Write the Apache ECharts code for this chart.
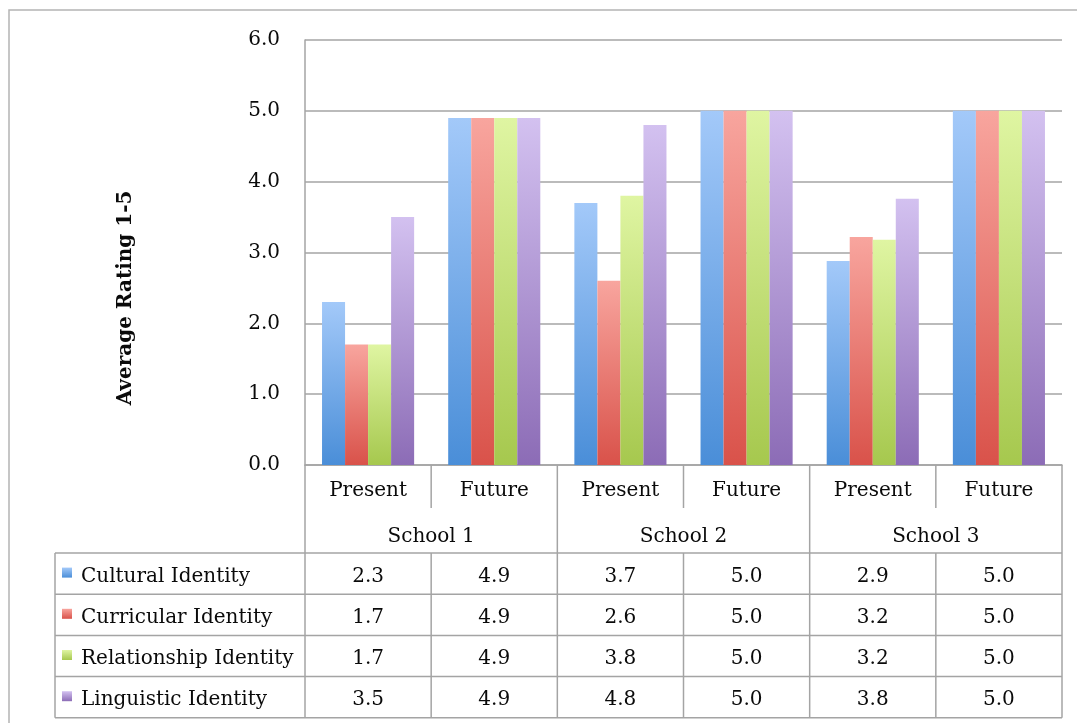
<!DOCTYPE html>
<html>
<head>
<meta charset="utf-8">
<script src="https://cdn.jsdelivr.net/npm/echarts@6/dist/echarts.min.js"></script>
<style>
  html, body { margin: 0; padding: 0; background: #fff; }
  #chart { width: 1077px; height: 723px; }
</style>
</head>
<body>
<div id="chart"></div>
<script>
// Average rating (1-5) per identity dimension, present vs. future, for three schools
const periods = ['Present', 'Future', 'Present', 'Future', 'Present', 'Future'];
const schools = ['School 1', 'School 2', 'School 3'];
const seriesNames = ['Cultural Identity', 'Curricular Identity', 'Relationship Identity', 'Linguistic Identity'];
const cultural = [2.3, 4.9, 3.7, 5.0, 2.88, 5.0];
const curricular = [1.7, 4.9, 2.6, 5.0, 3.22, 5.0];
const relationship = [1.7, 4.9, 3.8, 5.0, 3.18, 5.0];
const linguistic = [3.5, 4.9, 4.8, 5.0, 3.76, 5.0];
const yTicks = [0, 1, 2, 3, 4, 5, 6];
const yTitle = 'Average Rating 1-5';

const seriesValues = [cultural, curricular, relationship, linguistic];
// gradient colours, light at the top of each bar and deeper at the base
const barColors = [
  ['#a3c9f9', '#4a8ed8'],
  ['#f8a59e', '#d9524a'],
  ['#dff5a2', '#a6c84e'],
  ['#d3c1f0', '#8c6cb6']
];

const FONT = 'DejaVu Serif';
const FS = 20;
const TEXT = '#0a0a0a';
const LINE = '#a4a4a4';
const GRID = { left: 305, right: 15, top: 40, bottom: 258 };

const chart = echarts.init(document.getElementById('chart'), null, { renderer: 'canvas' });

function grad(c) {
  return new echarts.graphic.LinearGradient(0, 0, 0, 1, [
    { offset: 0, color: c[0] },
    { offset: 1, color: c[1] }
  ]);
}

chart.setOption({
  animation: false,
  backgroundColor: '#fff',
  grid: GRID,
  xAxis: [
    {
      type: 'category',
      data: periods,
      position: 'bottom',
      axisLine: { show: true, lineStyle: { color: LINE, width: 1.5 } },
      axisTick: { show: false },
      axisLabel: { margin: 16, fontFamily: FONT, fontSize: FS, color: TEXT },
      splitLine: { show: false }
    },
    {
      type: 'category',
      data: schools,
      position: 'bottom',
      axisLine: { show: false },
      axisTick: { show: false },
      axisLabel: { margin: 62, fontFamily: FONT, fontSize: FS, color: TEXT },
      splitLine: { show: false }
    }
  ],
  yAxis: {
    type: 'value',
    min: yTicks[0],
    max: yTicks[yTicks.length - 1],
    interval: 1,
    axisLine: { show: true, lineStyle: { color: LINE, width: 1.5 } },
    axisTick: { show: false },
    axisLabel: {
      margin: 25,
      padding: [6, 0, 0, 0],
      fontFamily: FONT,
      fontSize: FS,
      color: TEXT,
      formatter: v => v.toFixed(1)
    },
    splitLine: { show: true, lineStyle: { color: LINE, width: 1.5 } }
  },
  series: seriesNames.map((name, i) => ({
    name: name,
    type: 'bar',
    xAxisIndex: 0,
    data: seriesValues[i],
    barGap: '0%',
    barCategoryGap: '27%',
    itemStyle: { color: grad(barColors[i]) }
  }))
});

// Axis title plus the data table under the plot, laid out on the category axis positions
function buildTable() {
  const yBase = chart.convertToPixel({ yAxisIndex: 0 }, 0);
  const centers = periods.map((_, i) => chart.convertToPixel({ xAxisIndex: 0 }, i));
  const band = centers[1] - centers[0];
  const bounds = [centers[0] - band / 2].concat(centers.map(c => c + band / 2));
  const xLeft = bounds[0];
  const xRight = bounds[bounds.length - 1];
  const tableLeft = 55;

  const headerSplit = yBase + 43;      // end of the Present/Future row
  const headerBottom = yBase + 88;     // end of the School row
  const rowH = 41.2;
  const rowTops = seriesNames.map((_, r) => headerBottom + r * rowH);
  const tableBottom = headerBottom + seriesNames.length * rowH;
  const font = FS + 'px "' + FONT + '"';

  const els = [];
  const line = (x1, y1, x2, y2) => els.push({
    type: 'line',
    shape: { x1, y1, x2, y2 },
    style: { stroke: LINE, lineWidth: 1.5 },
    silent: true
  });

  // frame around the whole figure
  els.push({
    type: 'rect',
    shape: { x: 9, y: 10, width: 1100, height: 740 },
    style: { fill: null, stroke: '#b4b4b4', lineWidth: 1.5 },
    silent: true,
    z: -1
  });

  // vertical axis title
  els.push({
    type: 'text',
    x: 126,
    y: 298,
    rotation: Math.PI / 2,
    style: {
      text: yTitle,
      font: 'bold ' + FS + 'px "' + FONT + '"',
      fill: TEXT,
      textAlign: 'center',
      textVerticalAlign: 'middle'
    },
    silent: true
  });

  // horizontal rules
  for (let r = 0; r <= seriesNames.length; r++) {
    const y = headerBottom + r * rowH;
    line(r === 0 ? xLeft : tableLeft, y, xRight, y);
    if (r === 0) line(tableLeft, y, xLeft, y);
  }

  // vertical rules
  bounds.forEach((x, i) => {
    if (i === 0 || i === bounds.length - 1 || i % 2 === 0) {
      line(x, yBase, x, tableBottom);
    } else {
      line(x, yBase, x, headerSplit);
      line(x, headerBottom, x, tableBottom);
    }
  });
  line(tableLeft, headerBottom, tableLeft, tableBottom);

  // rows: legend swatch, series name, values
  seriesNames.forEach((name, r) => {
    const cy = rowTops[r] + rowH / 2 + 3;
    els.push({
      type: 'rect',
      shape: { x: 62, y: cy - 9, width: 10, height: 10 },
      style: { fill: grad(barColors[r]) },
      silent: true
    });
    els.push({
      type: 'text',
      x: 81,
      y: cy,
      style: {
        text: name,
        font: font,
        fill: TEXT,
        textAlign: 'left',
        textVerticalAlign: 'middle'
      },
      silent: true
    });
    seriesValues[r].forEach((v, c) => {
      els.push({
        type: 'text',
        x: centers[c],
        y: cy,
        style: {
          text: v.toFixed(1),
          font: font,
          fill: TEXT,
          textAlign: 'center',
          textVerticalAlign: 'middle'
        },
        silent: true
      });
    });
  });

  chart.setOption({ graphic: { elements: els } });
}

buildTable();
</script>
</body>
</html>
